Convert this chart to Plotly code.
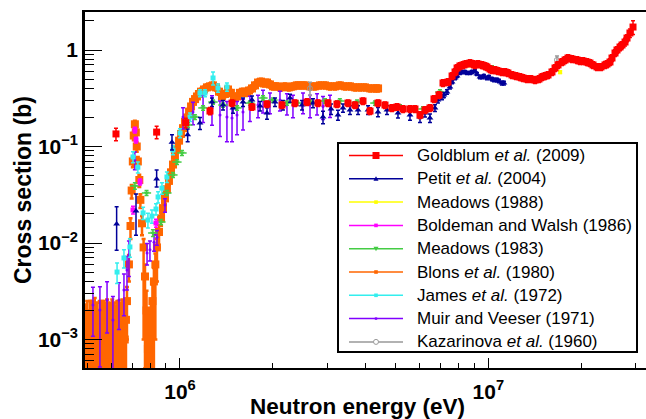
import plotly.graph_objects as go

# ---------------- data ----------------
# Blons et al. (1980)
blons_E = [4.96e5, 5.00e5, 5.05e5, 5.10e5, 5.14e5, 5.19e5, 5.24e5, 5.29e5, 5.34e5, 5.39e5,
           5.44e5, 5.49e5, 5.54e5, 5.60e5, 5.65e5, 5.70e5, 5.75e5, 5.80e5, 5.86e5, 5.92e5,
           5.97e5, 6.03e5, 6.09e5, 6.14e5, 6.20e5, 6.26e5, 6.32e5, 6.38e5, 6.44e5, 6.50e5,
           6.56e5, 6.62e5, 6.68e5,
           6.73e5, 6.83e5, 6.91e5, 6.97e5, 7.03e5, 7.08e5, 7.14e5, 7.19e5, 7.24e5, 7.30e5,
           7.38e5, 7.44e5, 7.53e5, 7.62e5, 7.70e5, 7.79e5, 7.87e5, 7.96e5, 8.05e5, 8.14e5,
           8.23e5, 8.32e5, 8.42e5, 8.55e5, 8.68e5, 8.81e5, 8.94e5, 9.07e5, 9.21e5, 9.35e5,
           9.49e5, 9.63e5, 9.78e5, 9.93e5, 1.008e6, 1.023e6, 1.038e6, 1.054e6, 1.070e6, 1.086e6,
           1.102e6, 1.119e6, 1.135e6, 1.152e6, 1.170e6, 1.196e6, 1.223e6, 1.251e6, 1.279e6, 1.308e6,
           1.338e6, 1.368e6, 1.399e6, 1.431e6, 1.463e6, 1.496e6, 1.531e6, 1.565e6, 1.601e6, 1.637e6,
           1.674e6, 1.712e6, 1.751e6, 1.791e6, 1.831e6, 1.873e6, 1.915e6, 1.958e6, 2.003e6, 2.063e6,
           2.125e6, 2.189e6, 2.255e6, 2.323e6, 2.393e6, 2.465e6, 2.540e6, 2.636e6, 2.737e6, 2.844e6,
           2.952e6, 3.066e6, 3.184e6, 3.30e6, 3.43e6, 3.56e6, 3.70e6, 3.84e6, 3.98e6, 4.14e6,
           4.29e6, 4.39e6]
blons_sigma = [1.1e-3, 0.9e-3, 0.7e-3, 1.5e-3, 1.6e-3, 0.7e-3, 0.9e-3, 1.9e-3, 1.3e-3, 1.0e-3,
               0.6e-3, 1.6e-3, 1.2e-3, 0.8e-3, 1.8e-3, 1.3e-3, 0.8e-3, 2.0e-3, 1.4e-3, 0.7e-3,
               1.0e-3, 1.8e-3, 1.5e-3, 1.2e-3, 0.9e-3, 1.5e-3, 1.7e-3, 0.8e-3, 1.1e-3, 1.9e-3,
               1.3e-3, 1.0e-3, 1.6e-3,
               2.5e-3, 6e-3, 0.015, 0.035, 0.07, 0.13, 0.17, 0.14, 0.10, 0.07,
               0.045, 0.028, 0.016, 0.009, 0.0045, 0.002, 0.0008, 0.0006, 0.0012, 0.0025,
               0.004, 0.006, 0.009, 0.013, 0.018, 0.023, 0.029, 0.036, 0.044, 0.054,
               0.065, 0.08, 0.095, 0.115, 0.135, 0.155, 0.18, 0.20, 0.23, 0.26,
               0.29, 0.31, 0.33, 0.35, 0.37, 0.39, 0.41, 0.42, 0.43, 0.41,
               0.37, 0.33, 0.35, 0.39, 0.36, 0.32, 0.33, 0.36, 0.37, 0.36,
               0.38, 0.40, 0.43, 0.46, 0.47, 0.45, 0.46, 0.44, 0.42, 0.42,
               0.41, 0.42, 0.41, 0.42, 0.43, 0.43, 0.43, 0.42, 0.42, 0.43,
               0.43, 0.42, 0.42, 0.43, 0.42, 0.42, 0.41, 0.41, 0.41, 0.40,
               0.40, 0.40]
blons_err_up = [1.2e-3, 1.6e-3, 1.3e-3, 1.0e-3, 0.9e-3, 1.8e-3, 1.5e-3, 0.8e-3, 1.1e-3, 1.4e-3,
                1.4e-3, 0.9e-3, 1.2e-3, 1.7e-3, 0.7e-3, 1.1e-3, 1.4e-3, 0.6e-3, 1.0e-3, 1.7e-3,
                1.3e-3, 0.8e-3, 0.9e-3, 1.2e-3, 1.3e-3, 1.0e-3, 0.8e-3, 1.6e-3, 1.2e-3, 0.7e-3,
                1.1e-3, 1.4e-3, 0.9e-3,
                1.0e-3, 1.5e-3, 3e-3, 5e-3, 8e-3, 0.012, 0.015, 0.013, 0.01, 0.008,
                6e-3, 4e-3, 3e-3, 2e-3, 1.5e-3, 1.2e-3, 1.2e-3, 1.2e-3, 1.2e-3, 1.2e-3,
                1.5e-3, 1.8e-3, 2e-3, 2.5e-3, 2.5e-3, 3e-3, 3e-3, 3.5e-3, 4e-3, 4.5e-3,
                0.006, 0.007, 0.008, 0.010, 0.011, 0.012, 0.014, 0.015, 0.017, 0.019,
                0.021, 0.022, 0.024, 0.025, 0.026, 0.027, 0.028, 0.029, 0.030, 0.029,
                0.026, 0.024, 0.025, 0.027, 0.026, 0.023, 0.024, 0.026, 0.026, 0.026,
                0.027, 0.028, 0.030, 0.032, 0.033, 0.032, 0.032, 0.031, 0.030, 0.030,
                0.029, 0.030, 0.029, 0.030, 0.030, 0.030, 0.030, 0.030, 0.030, 0.030,
                0.030, 0.030, 0.030, 0.030, 0.030, 0.030, 0.029, 0.029, 0.029, 0.028,
                0.028, 0.028]
blons_err_dn = [1.1e-3, 0.9e-3, 0.7e-3, 1.5e-3, 1.6e-3, 0.7e-3, 0.9e-3, 1.9e-3, 1.3e-3, 1.0e-3,
                0.6e-3, 1.6e-3, 1.2e-3, 0.8e-3, 1.8e-3, 1.3e-3, 0.8e-3, 2.0e-3, 1.4e-3, 0.7e-3,
                1.0e-3, 1.8e-3, 1.5e-3, 1.2e-3, 0.9e-3, 1.5e-3, 1.7e-3, 0.8e-3, 1.1e-3, 1.9e-3,
                1.3e-3, 1.0e-3, 1.6e-3,
                1.5e-3, 2e-3, 4e-3, 6e-3, 9e-3, 0.014, 0.017, 0.015, 0.012, 0.009,
                7e-3, 5e-3, 4e-3, 8e-3, 4e-3, 1.9e-3, 0.8e-3, 0.6e-3, 1.2e-3, 2.4e-3,
                3.8e-3, 5e-3, 5e-3, 4e-3, 3e-3, 3e-3, 3.5e-3, 4e-3, 4e-3, 5e-3,
                0.006, 0.007, 0.008, 0.010, 0.011, 0.012, 0.014, 0.015, 0.017, 0.019,
                0.021, 0.022, 0.024, 0.025, 0.026, 0.027, 0.028, 0.029, 0.030, 0.029,
                0.026, 0.024, 0.025, 0.027, 0.026, 0.023, 0.024, 0.026, 0.026, 0.026,
                0.027, 0.028, 0.030, 0.032, 0.033, 0.032, 0.032, 0.031, 0.030, 0.030,
                0.029, 0.030, 0.029, 0.030, 0.030, 0.030, 0.030, 0.030, 0.030, 0.030,
                0.030, 0.030, 0.030, 0.030, 0.030, 0.030, 0.029, 0.029, 0.029, 0.028,
                0.028, 0.028]

# Muir and Veeser (1971)
muir_E = [5.22e5, 5.50e5, 5.80e5, 6.06e5, 6.34e5, 6.58e5, 6.73e5, 6.83e5, 7.14e5, 7.82e5,
          7.99e5, 8.24e5, 8.42e5, 8.94e5, 1.023e6, 1.102e6, 1.188e6, 1.270e6, 1.348e6, 1.420e6,
          1.475e6, 1.531e6, 1.601e6, 1.686e6, 1.791e6, 1.859e6, 1.958e6, 2.110e6, 2.223e6, 2.325e6,
          2.506e6, 2.641e6, 2.783e6, 2.910e6, 3.066e6]
muir_sigma = [0.00228, 0.00202, 0.00257, 0.00159, 0.00257, 0.00326, 0.00525, 0.0075, 0.0725, 0.0079,
              0.0085, 0.0102, 0.0115, 0.0248, 0.202, 0.228, 0.257, 0.251, 0.212, 0.202,
              0.197, 0.212, 0.228, 0.257, 0.269, 0.303, 0.289, 0.303, 0.282, 0.269,
              0.289, 0.269, 0.282, 0.26, 0.27]
muir_err = [0.0012, 0.0015, 0.0014, 0.0012, 0.0013, 0.0015, 0.002, 0.003, 0.015, 0.002,
            0.002, 0.002, 0.002, 0.004, 0.05, 0.06, 0.08, 0.085, 0.085, 0.09,
            0.085, 0.08, 0.08, 0.075, 0.07, 0.08, 0.07, 0.07, 0.07, 0.07,
            0.07, 0.07, 0.07, 0.07, 0.07]

# James et al. (1972)
james_E = [6.25e5, 6.58e5, 6.88e5, 7.04e5, 7.30e5, 7.59e5, 7.87e5, 8.11e5, 8.36e5, 8.49e5,
           8.74e5, 9.07e5, 9.49e5, 1.0e6, 1.078e6, 1.161e6, 1.205e6, 1.28e6, 1.328e6, 1.420e6]
james_sigma = [0.005, 0.007, 0.0091, 0.078, 0.061, 0.0205, 0.0173, 0.019, 0.0225, 0.030,
               0.037, 0.0483, 0.092, 0.138, 0.202, 0.358, 0.358, 0.513, 0.404, 0.414]
james_err = [0.0012, 0.0015, 0.002, 0.01, 0.008, 0.003, 0.003, 0.003, 0.003, 0.004,
             0.005, 0.006, 0.01, 0.015, 0.02, 0.03, 0.03, 0.08, 0.04, 0.04]

# Meadows (1983)
m83_E = [7.14e5, 7.79e5, 8.17e5, 8.68e5, 9.07e5, 9.49e5, 9.78e5, 1.015e6, 1.062e6, 1.118e6,
         1.188e6, 1.280e6, 1.379e6, 1.531e6, 1.686e6, 1.859e6, 2.003e6, 2.223e6, 2.396e6, 2.641e6,
         2.953e6, 3.30e6, 3.752e6, 4.29e6, 5.17e6, 6.14e6, 6.97e6, 8.59e6, 1.028e7]
m83_sigma = [0.039, 0.033, 0.0127, 0.0165, 0.033, 0.0507, 0.069, 0.0857, 0.167, 0.202,
             0.251, 0.289, 0.269, 0.251, 0.282, 0.318, 0.303, 0.282, 0.282, 0.289,
             0.296, 0.296, 0.289, 0.282, 0.257, 0.245, 0.367, 0.733, 0.651]
m83_err = [0.003, 0.002, 0.001, 0.001, 0.002, 0.003, 0.004, 0.005, 0.009, 0.011,
           0.013, 0.015, 0.014, 0.013, 0.015, 0.017, 0.016, 0.015, 0.015, 0.015,
           0.016, 0.016, 0.015, 0.015, 0.014, 0.013, 0.02, 0.04, 0.035]
m83_dE = [2.5e4, 2.7e4, 2.9e4, 3.0e4, 3.2e4, 3.3e4, 3.4e4, 3.6e4, 3.7e4, 3.9e4,
          4.2e4, 4.5e4, 4.8e4, 5.4e4, 5.9e4, 6.5e4, 7.0e4, 7.8e4, 8.4e4, 9.2e4,
          1.0e5, 1.2e5, 1.3e5, 1.5e5, 1.8e5, 2.1e5, 2.4e5, 3.0e5, 3.6e5]

# Boldeman and Walsh (1986)
bold_E = [7.04e5, 7.14e5, 7.20e5, 7.42e5, 8.36e5]
bold_sigma = [0.022, 0.148, 0.117, 0.043, 0.0161]
bold_err = [0.002, 0.01, 0.008, 0.003, 0.0015]

# Meadows (1988)
m88_E = [8.72e6, 1.267e7, 1.71e7]
m88_sigma = [0.70, 0.53, 0.59]
m88_err = [0.03, 0.02, 0.02]

# Kazarinova et al. (1960)
kaz_E = [2.64e6, 1.67e7]
kaz_sigma = [0.40, 0.79]
kaz_err = [0.062, 0.075]

# Petit et al. (2004)
petit_E = [6.23e5, 7.20e5, 8.40e5, 9.42e5, 1.059e6, 1.161e6, 1.270e6, 1.379e6, 1.486e6, 1.601e6,
           1.712e6, 1.818e6, 1.915e6, 2.033e6, 2.158e6, 2.275e6, 2.488e6, 2.700e6, 2.910e6, 3.090e6,
           3.254e6, 3.378e6, 3.559e6, 3.780e6, 4.073e6, 4.387e6, 4.692e6, 5.094e6, 5.572e6, 6.004e6,
           6.232e6, 6.469e6, 6.714e6, 6.866e6, 7.075e6, 7.345e6, 7.51e6, 7.80e6, 8.09e6, 8.40e6,
           8.72e6, 9.05e6, 9.40e6, 9.68e6, 9.90e6, 1.028e7, 1.067e7, 1.107e7,
           7.18e6, 7.63e6, 7.92e6, 8.22e6, 8.53e6, 8.85e6, 9.19e6, 9.54e6, 1.005e7, 1.044e7,
           1.083e7, 1.124e7]
petit_sigma = [0.0157, 0.0215, 0.046, 0.111, 0.132, 0.175, 0.289, 0.269, 0.251, 0.289,
               0.303, 0.263, 0.222, 0.289, 0.269, 0.318, 0.269, 0.282, 0.202, 0.245,
               0.212, 0.251, 0.239, 0.239, 0.239, 0.228, 0.239, 0.222, 0.212, 0.202,
               0.222, 0.197, 0.251, 0.303, 0.326, 0.367, 0.414, 0.513, 0.578, 0.592,
               0.578, 0.606, 0.525, 0.538, 0.513, 0.50, 0.489, 0.455,
               0.342, 0.466, 0.538, 0.592, 0.578, 0.592, 0.564, 0.525, 0.525, 0.489,
               0.477, 0.455]
petit_err_up = [0.008, 0.0106, 0.011, 0.021, 0.02, 0.025, 0.03, 0.03, 0.03, 0.03,
                0.03, 0.03, 0.03, 0.03, 0.03, 0.03, 0.03, 0.03, 0.03, 0.03,
                0.025, 0.025, 0.025, 0.025, 0.025, 0.025, 0.025, 0.025, 0.025, 0.025,
                0.02, 0.02, 0.02, 0.02, 0.02, 0.02, 0.02, 0.02, 0.02, 0.02,
                0.02, 0.02, 0.02, 0.02, 0.02, 0.02, 0.02, 0.02,
                0.02, 0.02, 0.02, 0.02, 0.02, 0.02, 0.02, 0.02, 0.02, 0.02,
                0.02, 0.02]
petit_err_dn = [0.0073, 0.0095, 0.008, 0.019, 0.02, 0.025, 0.03, 0.03, 0.03, 0.03,
                0.03, 0.03, 0.03, 0.03, 0.03, 0.03, 0.03, 0.03, 0.03, 0.03,
                0.025, 0.025, 0.025, 0.025, 0.025, 0.025, 0.025, 0.025, 0.025, 0.025,
                0.02, 0.02, 0.02, 0.02, 0.02, 0.02, 0.02, 0.02, 0.02, 0.02,
                0.02, 0.02, 0.02, 0.02, 0.02, 0.02, 0.02, 0.02,
                0.02, 0.02, 0.02, 0.02, 0.02, 0.02, 0.02, 0.02, 0.02, 0.02,
                0.02, 0.02]

# Goldblum et al. (2009)
gold_E = [6.20e5, 8.40e5, 1.044e6, 1.251e6, 1.475e6, 1.712e6, 1.915e6, 2.142e6, 2.360e6, 2.582e6,
          2.803e6, 3.020e6, 3.230e6, 3.506e6, 3.695e6, 3.923e6, 4.134e6, 4.387e6, 4.623e6, 4.871e6,
          5.057e6, 5.29e6, 5.572e6, 5.783e6, 6.004e6, 6.232e6, 6.469e6, 6.666e6, 6.92e6, 7.13e6,
          7.40e6, 7.63e6, 7.92e6, 8.28e6, 8.72e6, 9.05e6, 9.54e6, 9.90e6, 1.028e7, 1.075e7,
          1.133e7, 1.194e7, 1.267e7, 1.335e7, 1.418e7, 1.494e7, 1.562e7, 1.646e7, 1.734e7, 1.813e7,
          1.940e7, 2.029e7, 2.137e7, 2.252e7, 2.391e7, 2.481e7, 2.576e7, 2.674e7, 2.776e7, 2.88e7,
          2.947e7,
          7.80e6, 8.09e6, 8.45e6, 8.92e6, 9.26e6, 9.75e6, 1.013e7, 1.051e7, 1.107e7, 1.158e7,
          1.230e7, 1.296e7, 1.375e7, 1.460e7, 1.527e7, 1.609e7, 1.683e7, 1.774e7, 1.869e7, 1.984e7,
          2.090e7, 2.186e7, 2.320e7, 2.427e7, 2.519e7, 2.615e7, 2.715e7, 2.818e7]
gold_sigma = [0.135, 0.141, 0.1765, 0.233, 0.282, 0.257, 0.275, 0.269, 0.282, 0.289,
              0.282, 0.282, 0.275, 0.282, 0.269, 0.296, 0.233, 0.282, 0.269, 0.251,
              0.257, 0.245, 0.245, 0.245, 0.212, 0.239, 0.251, 0.311, 0.342, 0.455,
              0.466, 0.538, 0.651, 0.70, 0.733, 0.70, 0.70, 0.667, 0.621, 0.606,
              0.592, 0.551, 0.525, 0.50, 0.489, 0.525, 0.551, 0.651, 0.751, 0.826,
              0.788, 0.77, 0.733, 0.667, 0.70, 0.751, 0.931, 1.074, 1.21, 1.50,
              1.73,
              0.592, 0.683, 0.716, 0.716, 0.716, 0.683, 0.635, 0.621, 0.592, 0.578,
              0.538, 0.513, 0.50, 0.50, 0.538, 0.592, 0.70, 0.788, 0.807, 0.77,
              0.751, 0.70, 0.667, 0.716, 0.826, 1.0, 1.127, 1.33]
gold_err = [0.02, 0.021, 0.02, 0.02, 0.022, 0.02, 0.022, 0.021, 0.022, 0.023,
            0.022, 0.022, 0.022, 0.022, 0.021, 0.023, 0.019, 0.022, 0.021, 0.02,
            0.02, 0.02, 0.02, 0.02, 0.017, 0.019, 0.02, 0.025, 0.027, 0.036,
            0.037, 0.043, 0.052, 0.056, 0.059, 0.056, 0.056, 0.053, 0.05, 0.048,
            0.047, 0.044, 0.042, 0.04, 0.039, 0.042, 0.044, 0.052, 0.06, 0.066,
            0.063, 0.062, 0.059, 0.053, 0.056, 0.06, 0.075, 0.09, 0.11, 0.15,
            0.28,
            0.047, 0.055, 0.057, 0.057, 0.057, 0.055, 0.051, 0.05, 0.047, 0.046,
            0.043, 0.041, 0.04, 0.04, 0.043, 0.047, 0.056, 0.063, 0.065, 0.062,
            0.06, 0.056, 0.053, 0.057, 0.066, 0.08, 0.09, 0.11]

# axis ticks
x_tickvals = [1e6, 1e7]
x_ticktext = ["10<sup>6</sup>", "10<sup>7</sup>"]
x_minor = [5e5, 6e5, 7e5, 8e5, 9e5, 2e6, 3e6, 4e6, 5e6, 6e6, 7e6, 8e6, 9e6, 2e7, 3e7]
y_tickvals = [1e-3, 1e-2, 1e-1, 1]
y_ticktext = ["10<sup>\u22123</sup>", "10<sup>\u22122</sup>", "10<sup>\u22121</sup>", "1"]
y_minor = [k * 10.0 ** d for d in (-4, -3, -2, -1, 0) for k in range(2, 10)]

legend_names = ["Goldblum <i>et al.</i> (2009)", "Petit <i>et al.</i> (2004)", "Meadows (1988)",
                "Boldeman and Walsh (1986)", "Meadows (1983)", "Blons <i>et al.</i> (1980)",
                "James <i>et al.</i> (1972)", "Muir and Veeser (1971)", "Kazarinova <i>et al.</i> (1960)"]

# ---------------- styling ----------------
FONT = "Liberation Sans"
C_GOLD = "#ff0000"
C_PETIT = "#000099"
C_M88 = "#ffff00"
C_BOLD = "#ff00ff"
C_M83 = "#44cc44"
C_BLONS = "#ff6600"
C_JAMES = "#33eeee"
C_MUIR = "#8000ff"
C_KAZ = "#999999"

W, H = 646, 419
ML, MR, MT, MB = 85, 0, 12, 51
PW = W - ML - MR
PH = H - MT - MB


def pxx(x):
    return (x - ML) / PW


def pxy(y):
    return 1 - (y - MT) / PH


fig = go.Figure()


def add_series(E, S, up, dn, color, symbol, size, dE=None, lw=0, thick=1.5):
    ex = dict(visible=False)
    if dE is not None:
        ex = dict(type="data", array=dE, color=color, thickness=1.5, width=0)
    fig.add_trace(go.Scatter(
        x=E, y=S, mode="markers", showlegend=False, hoverinfo="x+y",
        marker=dict(symbol=symbol, size=size, color=color,
                    line=dict(width=lw, color=color)),
        error_y=dict(type="data", array=up, arrayminus=dn, symmetric=False,
                     color=color, thickness=thick, width=2),
        error_x=ex,
        cliponaxis=True,
    ))


add_series(blons_E, blons_sigma, blons_err_up, blons_err_dn, C_BLONS, "square", 8, thick=2.5)
add_series(muir_E, muir_sigma, muir_err, muir_err, C_MUIR, "circle", 3)
add_series(james_E, james_sigma, james_err, james_err, C_JAMES, "square", 5)
add_series(m83_E, m83_sigma, m83_err, m83_err, C_M83, "triangle-down", 5, dE=m83_dE)
add_series(bold_E, bold_sigma, bold_err, bold_err, C_BOLD, "square", 5)
add_series(m88_E, m88_sigma, m88_err, m88_err, C_M88, "square", 4)
add_series(kaz_E, kaz_sigma, kaz_err, kaz_err, C_KAZ, "circle-open", 5, lw=1)
add_series(petit_E, petit_sigma, petit_err_up, petit_err_dn, C_PETIT, "triangle-up", 6)
add_series(gold_E, gold_sigma, gold_err, gold_err, C_GOLD, "square", 7)

# ---------------- manual legend ----------------
shapes = []
annotations = []
LX0, LX1, LY0, LY1 = 338, 637, 143, 352
shapes.append(dict(type="rect", xref="paper", yref="paper",
                   x0=pxx(LX0), x1=pxx(LX1), y0=pxy(LY1), y1=pxy(LY0),
                   line=dict(color="black", width=2), fillcolor="white", layer="above"))
leg_colors = [C_GOLD, C_PETIT, C_M88, C_BOLD, C_M83, C_BLONS, C_JAMES, C_MUIR, C_KAZ]
leg_marks = ["sq7", "tri", "sq3", "sq3", "tri_d", "sq3", "sq3", "dot", "circ"]
for i, (nm, col, mk) in enumerate(zip(legend_names, leg_colors, leg_marks)):
    yc = 155.5 + 23.3 * i
    shapes.append(dict(type="line", xref="paper", yref="paper",
                       x0=pxx(349), x1=pxx(403), y0=pxy(yc), y1=pxy(yc),
                       line=dict(color=col, width=1.5), layer="above"))
    cx = 376
    if mk.startswith("sq"):
        h = 3.5 if mk == "sq7" else 1.8
        shapes.append(dict(type="rect", xref="paper", yref="paper",
                           x0=pxx(cx - h), x1=pxx(cx + h), y0=pxy(yc + h), y1=pxy(yc - h),
                           line=dict(width=0), fillcolor=col, layer="above"))
    elif mk == "tri":
        path = "M %f,%f L %f,%f L %f,%f Z" % (pxx(cx - 2.5), pxy(yc + 2), pxx(cx + 2.5), pxy(yc + 2),
                                             pxx(cx), pxy(yc - 2.5))
        shapes.append(dict(type="path", xref="paper", yref="paper", path=path,
                           line=dict(width=0), fillcolor=col, layer="above"))
    elif mk == "tri_d":
        path = "M %f,%f L %f,%f L %f,%f Z" % (pxx(cx - 2.5), pxy(yc - 2), pxx(cx + 2.5), pxy(yc - 2),
                                             pxx(cx), pxy(yc + 2.5))
        shapes.append(dict(type="path", xref="paper", yref="paper", path=path,
                           line=dict(width=0), fillcolor=col, layer="above"))
    elif mk == "dot":
        shapes.append(dict(type="rect", xref="paper", yref="paper",
                           x0=pxx(cx - 1.2), x1=pxx(cx + 1.2), y0=pxy(yc + 1.2), y1=pxy(yc - 1.2),
                           line=dict(width=0), fillcolor=col, layer="above"))
    else:
        shapes.append(dict(type="circle", xref="paper", yref="paper",
                           x0=pxx(cx - 2.5), x1=pxx(cx + 2.5), y0=pxy(yc + 2.5), y1=pxy(yc - 2.5),
                           line=dict(width=1, color=col), fillcolor="white", layer="above"))
    annotations.append(dict(text=nm, xref="paper", yref="paper", x=pxx(415), y=pxy(yc),
                            xanchor="left", yanchor="middle", showarrow=False,
                            font=dict(family=FONT, size=17, color="black")))

# axis titles
annotations.append(dict(text="Neutron energy (eV)", xref="paper", yref="paper",
                        x=pxx(357.5), y=pxy(406), xanchor="center", yanchor="middle",
                        showarrow=False,
                        font=dict(family=FONT, size=22.5, color="black", weight="bold")))
annotations.append(dict(text="Cross section (b)", xref="paper", yref="paper",
                        x=pxx(23), y=pxy(190), xanchor="center", yanchor="middle",
                        textangle=-90, showarrow=False,
                        font=dict(family=FONT, size=23, color="black", weight="bold")))

fig.update_layout(
    width=W, height=H,
    margin=dict(l=ML, r=MR, t=MT, b=MB, pad=0),
    paper_bgcolor="white", plot_bgcolor="white",
    showlegend=False,
    shapes=shapes, annotations=annotations,
    font=dict(family=FONT, color="black"),
)
fig.update_xaxes(
    type="log", range=[5.6919, 7.5115], autorange=False,
    tickmode="array", tickvals=x_tickvals, ticktext=x_ticktext,
    ticks="inside", ticklen=10, tickwidth=1, tickcolor="black",
    ticklabelstandoff=4,
    tickfont=dict(family=FONT, size=21, color="black", weight="bold"),
    minor=dict(tickmode="array", tickvals=x_minor, ticks="inside", ticklen=5,
               tickwidth=1, tickcolor="black", showgrid=False),
    showline=True, linecolor="black", linewidth=2, mirror=True,
    showgrid=False, zeroline=False, automargin=False,
)
fig.update_yaxes(
    type="log", range=[-3.2953, 0.3938], autorange=False,
    tickmode="array", tickvals=y_tickvals, ticktext=y_ticktext,
    ticks="inside", ticklen=17, tickwidth=1, tickcolor="black",
    tickfont=dict(family=FONT, size=21, color="black", weight="bold"),
    minor=dict(tickmode="array", tickvals=y_minor, ticks="inside", ticklen=9,
               tickwidth=1, tickcolor="black", showgrid=False),
    showline=True, linecolor="black", linewidth=2.5, mirror=False,
    showgrid=False, zeroline=False, automargin=False,
)

fig.write_html("out.html")
